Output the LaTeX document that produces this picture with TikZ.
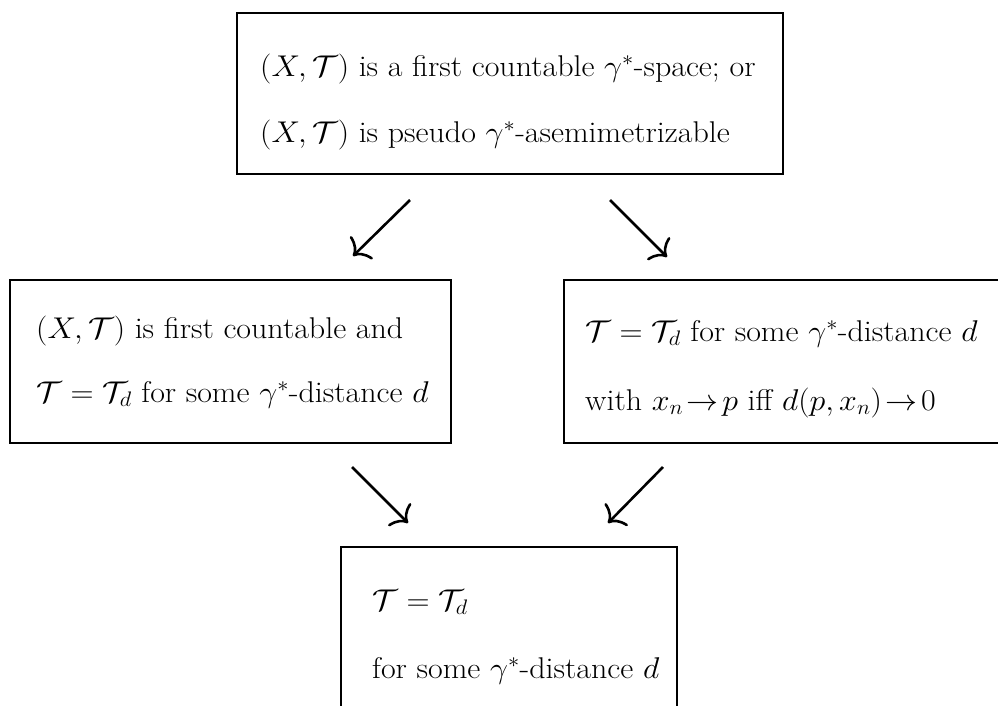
\RequirePackage{fix-cm}
\documentclass[tikz,border=0pt]{standalone}
\usepackage{amsmath}
\usetikzlibrary{arrows.meta}
\newcommand\wideX[1]{\scalebox{1.065}[1]{#1}}
\tikzset{
  box/.style={draw, line width=1.6pt, rectangle, inner sep=0pt},
  txt/.style={anchor=base west, inner sep=0pt, font=\fontsize{30}{34}\selectfont},
  arr/.style={line width=2.6pt, -{To[length=13pt,width=32pt,line width=2.6pt]}},
}
\begin{document}
\begin{tikzpicture}[x=1pt,y=-1pt]
\useasboundingbox (0,0) rectangle (998,705);
\clip (0,0) rectangle (998,705);
% boxes
\node[box, minimum width=546pt, minimum height=161pt] (top) at (510,93.5) {};
\node[box, minimum width=441pt, minimum height=163pt] (left) at (230.5,361.5) {};
\node[box, minimum width=460pt, minimum height=163pt] (right) at (794,361.5) {};
\node[box, minimum width=336pt, minimum height=200pt] (bottom) at (509,647) {};
% texts
\node[txt] (t1) at (260,76) {\wideX{$(X,\mathcal{T})$ is a first countable $\gamma^*$-space; or}};
\node[txt] (t2) at (260,142) {\wideX{$(X,\mathcal{T})$ is pseudo $\gamma^*$-asemimetrizable}};
\node[txt] (l1) at (36,338) {\wideX{$(X,\mathcal{T})$ is first countable and}};
\node[txt] (l2) at (36,402) {\wideX{$\mathcal{T}=\mathcal{T}_d$ for some $\gamma^*$-distance $d$}};
\node[txt] (r1) at (585,341) {\wideX{$\mathcal{T}=\mathcal{T}_d$ for some $\gamma^*$-distance $d$}};
\node[txt] (r2) at (585,410) {\wideX{with $x_n\!\to\! p$ iff $d(p,x_n)\!\to\! 0$}};
\node[txt] (b1) at (372,610) {\wideX{$\mathcal{T}=\mathcal{T}_d$}};
\node[txt] (b2) at (372,678) {\wideX{for some $\gamma^*$-distance $d$}};
% arrow end points
\coordinate (a1s) at (410,200);
\coordinate (a1e) at (353,256);
\coordinate (a2s) at (610,200);
\coordinate (a2e) at (667,257);
\coordinate (a3s) at (352,467);
\coordinate (a3e) at (408,523);
\coordinate (a4s) at (663,467);
\coordinate (a4e) at (608,523);
\draw[arr] (a1s) -- (a1e);
\draw[arr] (a2s) -- (a2e);
\draw[arr] (a3s) -- (a3e);
\draw[arr] (a4s) -- (a4e);
\end{tikzpicture}
\end{document}
